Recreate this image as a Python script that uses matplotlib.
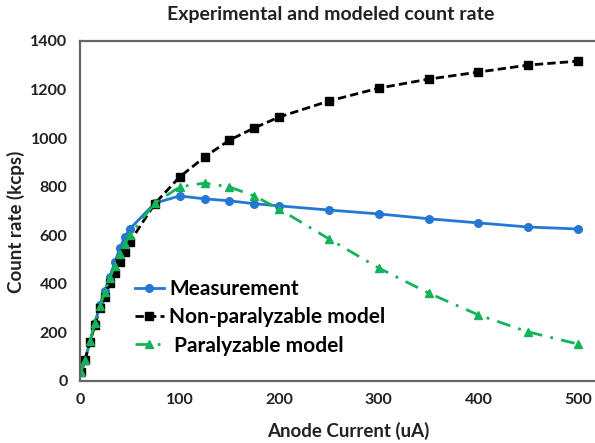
import matplotlib
matplotlib.use('Agg')
from matplotlib import pyplot as plt

plt.rcParams['font.family'] = ['Lato', 'DejaVu Sans']

current = [1, 5, 10, 15, 20, 25, 30, 35, 40, 45, 50, 75,
           100, 125, 150, 175, 200, 250, 300, 350, 400, 450, 500]
measured = [38, 86, 162, 240, 312, 370, 428, 490, 547, 593, 626, 732,
            762, 750, 742, 730, 721, 704, 688, 668, 651, 634, 626]
non_paralyzable = [37, 86, 161, 230, 300, 346, 403, 445, 490, 531, 572, 730,
                   840, 922, 992, 1042, 1087, 1153, 1206, 1243, 1272, 1301, 1317]
paralyzable = [37, 86, 163, 238, 308, 368, 425, 475, 525, 565, 600, 732,
               799, 815, 799, 762, 708, 585, 465, 362, 272, 202, 152]


def graphing():
    fig = plt.figure(figsize=(5.95, 4.43), dpi=100)
    ax = fig.add_axes([80 / 595, 1 - 381 / 443, 1 - 80 / 595, (381 - 41) / 443])

    ax.plot(current, measured, c='#2478D4', lw=2, marker='o', ms=5.5,
            label='Measurement')
    ax.plot(current, non_paralyzable, c='black', lw=2, ls=(0, (3, 1.5)),
            marker='s', ms=5.5, label='Non-paralyzable model')
    ax.plot(current, paralyzable, c='#13B35A', lw=2, ls=(0, (5, 3, 1, 3)),
            marker='^', ms=6, label=' Paralyzable model')

    ax.set_xlim(0, 517)
    ax.set_ylim(0, 1400)
    ax.set_xticks(range(0, 501, 100))
    ax.set_yticks(range(0, 1401, 200))
    ax.tick_params(length=0, labelsize=11.5, pad=9, colors='#222222')
    for lab in ax.get_xticklabels() + ax.get_yticklabels():
        lab.set_fontweight('bold')

    for side in ('left', 'bottom', 'top'):
        ax.spines[side].set_color('#666666')
        ax.spines[side].set_linewidth(1.6)
    ax.spines['right'].set_visible(False)

    fig.text(0.555, 0.967, 'Experimental and modeled count rate', ha='center',
             va='center', fontsize=14, fontweight='bold', color='#222222')
    fig.text(348 / 595, 1 - 431 / 443, 'Anode Current (uA)', ha='center',
             va='center', fontsize=13.5, fontweight='bold', color='#222222')
    fig.text(16 / 595, 1 - 222 / 443, 'Count rate (kcps)', ha='center',
             va='center', rotation=90, fontsize=13.5, fontweight='bold',
             color='#222222')

    ax.legend(loc='upper left', bbox_to_anchor=(0.09, 0.325), frameon=False,
              handlelength=1.4, handletextpad=0.25, labelspacing=0.4,
              borderaxespad=0, prop={'weight': 'bold', 'size': 15})

    fig.savefig('out.png', dpi=100)


if __name__ == "__main__":
    graphing()
